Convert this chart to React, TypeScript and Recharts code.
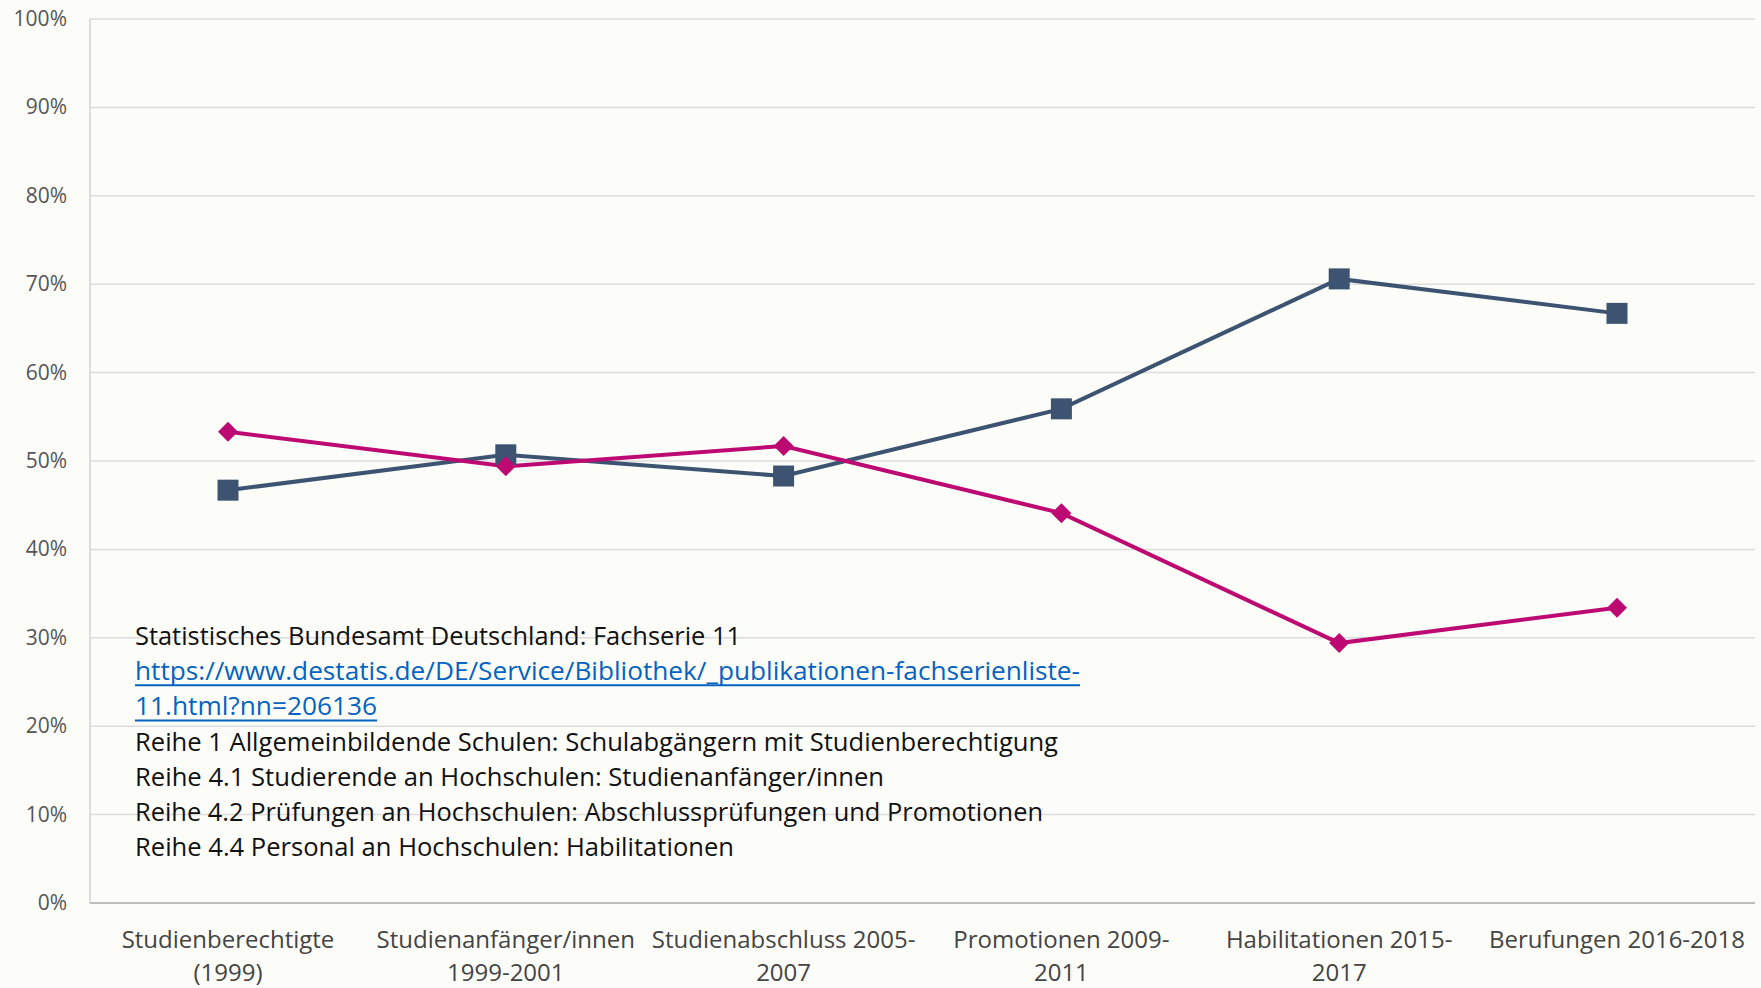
import React from "react";
import { LineChart, Line, XAxis, YAxis, CartesianGrid } from "recharts";

const categories = [
  "Studienberechtigte (1999)",
  "Studienanfänger/innen 1999-2001",
  "Studienabschluss 2005-2007",
  "Promotionen 2009-2011",
  "Habilitationen 2015-2017",
  "Berufungen 2016-2018",
];
const categoryLines = [
  ["Studienberechtigte", "(1999)"],
  ["Studienanfänger/innen", "1999-2001"],
  ["Studienabschluss 2005-", "2007"],
  ["Promotionen 2009-", "2011"],
  ["Habilitationen 2015-", "2017"],
  ["Berufungen 2016-2018"],
];
const maleValues = [46.7, 50.7, 48.3, 55.9, 70.6, 66.7];
const femaleValues = [53.3, 49.4, 51.7, 44.1, 29.4, 33.4];
const yTicks = [0, 10, 20, 30, 40, 50, 60, 70, 80, 90, 100];
const noteLines = [
  "Statistisches Bundesamt Deutschland: Fachserie 11",
  "https://www.destatis.de/DE/Service/Bibliothek/_publikationen-fachserienliste-",
  "11.html?nn=206136",
  "Reihe 1 Allgemeinbildende Schulen: Schulabgängern mit Studienberechtigung",
  "Reihe 4.1 Studierende an Hochschulen: Studienanfänger/innen",
  "Reihe 4.2 Prüfungen an Hochschulen: Abschlussprüfungen und Promotionen",
  "Reihe 4.4 Personal an Hochschulen: Habilitationen",
];
const noteWidths = [606, 945, 242, 923, 749, 908, 599];
const noteIsLink = [false, true, true, false, false, false, false];

const data = categories.map((c, i) => ({
  name: c,
  idx: i,
  male: maleValues[i],
  female: femaleValues[i],
}));

const GRAY = "#3d5372";
const PINK = "#bd0a72";

const SquareDot = (props: any) => {
  const { cx, cy } = props;
  if (cx == null || cy == null) return null;
  const s = 21;
  return <rect key={`s-${cx}`} x={cx - s / 2} y={cy - s / 2} width={s} height={s} fill={GRAY} />;
};

const DiamondDot = (props: any) => {
  const { cx, cy } = props;
  if (cx == null || cy == null) return null;
  const r = 10;
  return (
    <polygon
      key={`d-${cx}`}
      points={`${cx},${cy - r} ${cx + r},${cy} ${cx},${cy + r} ${cx - r},${cy}`}
      fill={PINK}
    />
  );
};

const XTick = (props: any) => {
  const { x, y, payload } = props;
  const lines = categoryLines[payload.index] || [String(payload.value)];
  return (
    <g>
      {lines.map((l: string, i: number) => (
        <text
          key={i}
          x={x}
          y={y + 45 + i * 33}
          textAnchor="middle"
          fontFamily="'Open Sans', sans-serif"
          fontSize={24}
          fill="#444"
        >
          {l}
        </text>
      ))}
    </g>
  );
};

const YTick = (props: any) => {
  const { x, y, payload } = props;
  return (
    <text
      x={x}
      y={y + 7}
      textAnchor="end"
      fontFamily="'Open Sans', sans-serif"
      fontSize={21}
      fill="#555"
    >
      {`${payload.value}%`}
    </text>
  );
};

export default function App() {
  return (
    <div
      style={{
        position: "absolute",
        left: 0,
        top: 0,
        width: 1761,
        height: 988,
        background: "#fcfdf9",
        overflow: "hidden",
      }}
    >
      <LineChart
        width={1761}
        height={988}
        data={data}
        margin={{ top: 19, right: 6, left: 10, bottom: 0 }}
      >
        <CartesianGrid vertical={false} stroke="#dcdcdc" strokeWidth={1.5} />
        <XAxis
          dataKey="name"
          height={85}
          interval={0}
          padding={{ left: 138, right: 138 }}
          tickLine={false}
          tickSize={0}
          tickMargin={0}
          axisLine={{ stroke: "#bdbdbd", strokeWidth: 2 }}
          tick={<XTick />}
        />
        <YAxis
          width={80}
          domain={[0, 100]}
          ticks={yTicks}
          tickLine={false}
          tickSize={0}
          tickMargin={23}
          axisLine={{ stroke: "#d2d2d2", strokeWidth: 1.5 }}
          tick={<YTick />}
          interval={0}
        />
        <Line
          dataKey="male"
          stroke={GRAY}
          strokeWidth={4}
          dot={<SquareDot />}
          activeDot={false}
          isAnimationActive={false}
        />
        <Line
          dataKey="female"
          stroke={PINK}
          strokeWidth={4}
          dot={<DiamondDot />}
          activeDot={false}
          isAnimationActive={false}
        />
      </LineChart>
      <svg
        width={1761}
        height={988}
        style={{ position: "absolute", left: 0, top: 0, pointerEvents: "none" }}
      >
        {noteLines.map((l, i) => {
          const baseline = 645 + i * 35.2;
          return (
            <g key={i}>
              <text
                x={135}
                y={baseline}
                fontFamily="'Liberation Sans Narrow', 'Open Sans', sans-serif"
                fontSize={26}
                fill={noteIsLink[i] ? "#0563c1" : "#111"}
                textLength={noteWidths[i]}
                lengthAdjust="spacingAndGlyphs"
              >
                {l}
              </text>
              {noteIsLink[i] && (
                <line
                  x1={135}
                  x2={135 + noteWidths[i]}
                  y1={baseline + 5}
                  y2={baseline + 5}
                  stroke="#0563c1"
                  strokeWidth={2}
                />
              )}
            </g>
          );
        })}
      </svg>
    </div>
  );
}
